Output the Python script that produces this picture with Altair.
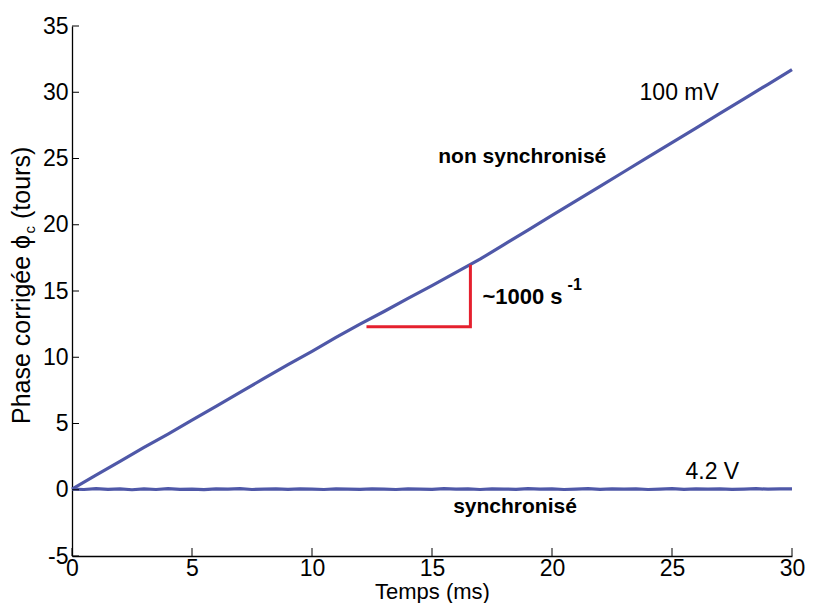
import altair as alt
import pandas as pd

# ---- data ----
t_rise = list(range(0, 31))
phase_rise = [0.05, 1.1, 2.15, 3.2, 4.2, 5.25, 6.3, 7.35, 8.4, 9.45, 10.45,
              11.5, 12.5, 13.45, 14.45, 15.4, 16.4, 17.4, 18.5, 19.6, 20.7,
              21.8, 22.9, 24.0, 25.1, 26.2, 27.3, 28.4, 29.5, 30.6, 31.7]

t_sync = [i * 0.5 for i in range(61)]
phase_sync = [0.05, 0.02, 0.08, 0.03, 0.06, 0.0, 0.07, 0.02, 0.09, 0.03,
              0.05, 0.01, 0.06, 0.04, 0.08, 0.02, 0.05, 0.07, 0.03, 0.06,
              0.04, 0.02, 0.06, 0.05, 0.03, 0.07, 0.04, 0.02, 0.06, 0.05,
              0.03, 0.08, 0.04, 0.06, 0.02, 0.07, 0.05, 0.03, 0.09, 0.04,
              0.06, 0.02, 0.05, 0.08, 0.03, 0.06, 0.04, 0.07, 0.02, 0.05,
              0.08, 0.03, 0.06, 0.04, 0.07, 0.03, 0.05, 0.08, 0.04, 0.06, 0.07]

x_ticks = [0, 5, 10, 15, 20, 25, 30]
y_ticks = [-5, 0, 5, 10, 15, 20, 25, 30, 35]

# slope marker (red)
slope_x = [12.27, 16.6, 16.6]
slope_y = [12.3, 12.3, 16.98]

# annotations
ann_text = ["100 mV", "4.2 V"]
ann_x = [25.3, 26.68]
ann_y = [29.95, 1.37]
bold_text = ["non synchronisé", "synchronisé"]
bold_x = [18.76, 18.46]
bold_y = [25.13, -1.27]

BLUE = "#4F58A8"
RED = "#E5202E"
FONT = "Liberation Sans"
W, H = 720, 530

rise = pd.DataFrame({"t": t_rise, "p": phase_rise})
sync = pd.DataFrame({"t": t_sync, "p": phase_sync})

xs = alt.Scale(domain=[0, 30], nice=False, zero=False)
ys = alt.Scale(domain=[-5, 35], nice=False, zero=False)

x_enc = alt.X("t:Q", scale=xs,
              axis=alt.Axis(values=x_ticks, title="Temps (ms)", ticks=False,
                            labelPadding=1, titlePadding=1, titleFontSize=22,
                            labelFlush=False,
                            titleFontWeight="normal", titleFont=FONT))
y_enc = alt.Y("p:Q", scale=ys,
              axis=alt.Axis(values=y_ticks, title=None, ticks=False, labelPadding=4,
                            labelFlush=False,
                            labelExpr="'' + datum.value"))

line_rise = alt.Chart(rise).mark_line(color=BLUE, strokeWidth=3.2).encode(x=x_enc, y=y_enc)
line_sync = alt.Chart(sync).mark_line(color=BLUE, strokeWidth=3.2).encode(
    x=alt.X("t:Q", scale=xs), y=alt.Y("p:Q", scale=ys))

slope = alt.Chart(pd.DataFrame({"t": slope_x, "p": slope_y, "o": [0, 1, 2]})).mark_line(
    color=RED, strokeWidth=3).encode(x=alt.X("t:Q", scale=xs), y=alt.Y("p:Q", scale=ys),
                                     order="o:O")

# inward ticks
ytick = alt.Chart(pd.DataFrame({"p": y_ticks})).mark_rule(color="black", strokeWidth=1).encode(
    y=alt.Y("p:Q", scale=ys), x=alt.value(0), x2=alt.value(7))
xtick = alt.Chart(pd.DataFrame({"t": x_ticks})).mark_rule(color="black", strokeWidth=1).encode(
    x=alt.X("t:Q", scale=xs), y=alt.value(H), y2=alt.value(H - 8))

ann = alt.Chart(pd.DataFrame({"t": ann_x, "p": ann_y, "s": ann_text})).mark_text(
    font=FONT, fontSize=23, color="black", baseline="middle", align="center").encode(
    x=alt.X("t:Q", scale=xs), y=alt.Y("p:Q", scale=ys), text="s:N")
bold = alt.Chart(pd.DataFrame({"t": bold_x, "p": bold_y, "s": bold_text})).mark_text(
    font=FONT, fontSize=21, fontWeight="bold", color="black", baseline="middle",
    align="center").encode(x=alt.X("t:Q", scale=xs), y=alt.Y("p:Q", scale=ys), text="s:N")

rate = alt.Chart(pd.DataFrame({"t": [17.1], "p": [14.57], "s": ["~1000 s"]})).mark_text(
    font=FONT, fontSize=22, fontWeight="bold", color="black", baseline="middle",
    align="left").encode(x=alt.X("t:Q", scale=xs), y=alt.Y("p:Q", scale=ys), text="s:N")
rate_sup = alt.Chart(pd.DataFrame({"t": [20.65], "p": [15.45], "s": ["-1"]})).mark_text(
    font=FONT, fontSize=16, fontWeight="bold", color="black", baseline="middle",
    align="left").encode(x=alt.X("t:Q", scale=xs), y=alt.Y("p:Q", scale=ys), text="s:N")

# rotated y-axis title with subscript
TF = 25
Y0 = 398
BX = -42
phi_y = Y0 - 7.003 * TF
c_y = phi_y - 0.62 * TF
tours_y = c_y - 0.5 * 15 - 0.278 * TF


def vtext(s, yv, xv, size):
    return alt.Chart(pd.DataFrame({"s": [s]})).mark_text(
        font=FONT, fontSize=size, angle=270, align="left", baseline="alphabetic",
        color="black").encode(x=alt.value(xv), y=alt.value(yv), text="s:N")


ttl = vtext("Phase corrigée", Y0, BX, TF)
phi = vtext("ϕ", phi_y, BX, TF)
sub = vtext("c", c_y, BX + 5, 15)
tours = vtext("(tours)", tours_y, BX, TF)

chart = alt.layer(line_rise, line_sync, slope, ytick, xtick, ann, bold, rate, rate_sup,
                  ttl, phi, sub, tours).properties(
    width=W, height=H,
    autosize=alt.AutoSizeParams(type="none"),
    padding={"left": 64, "top": 18, "right": 14, "bottom": 47},
    background="white",
).configure_view(stroke=None).configure_axis(
    domainColor="black", domainWidth=1.3, grid=False,
    labelFont=FONT, labelFontSize=23, labelColor="black",
    titleColor="black",
)

chart.save("out.html", embed_options={"renderer": "svg", "actions": False})
